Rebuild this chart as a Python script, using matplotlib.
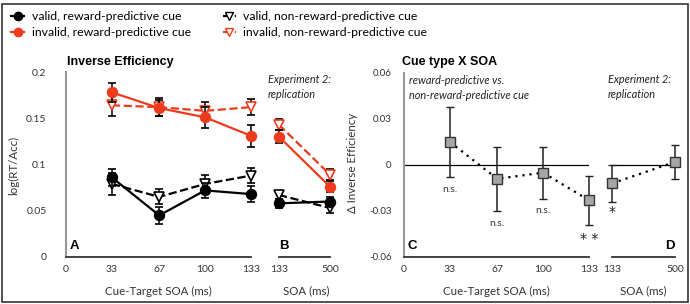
import numpy as np
import matplotlib.pyplot as plt
from matplotlib.lines import Line2D
from matplotlib.patches import Rectangle

plt.rcParams["font.family"] = ["Lato", "DejaVu Sans"]

RED = "#ee3b1e"
W, H = 690, 304

# Experiment 1: cue-target SOA (ms)
soa_1 = [33, 67, 100, 133]
valid_rew = [0.086, 0.045, 0.072, 0.068]
valid_rew_err = [0.009, 0.009, 0.008, 0.009]
valid_non = [0.079, 0.065, 0.079, 0.088]
valid_non_err = [0.012, 0.008, 0.010, 0.008]
invalid_rew = [0.178, 0.161, 0.151, 0.131]
invalid_rew_err = [0.010, 0.009, 0.011, 0.012]
invalid_non = [0.164, 0.162, 0.158, 0.162]
invalid_non_err = [0.012, 0.010, 0.010, 0.009]

# Experiment 2: replication
soa_2 = [133, 500]
valid_rew_2 = [0.058, 0.060]
valid_rew_2_err = [0.005, 0.005]
valid_non_2 = [0.067, 0.053]
valid_non_2_err = [0.004, 0.005]
invalid_rew_2 = [0.130, 0.076]
invalid_rew_2_err = [0.007, 0.006]
invalid_non_2 = [0.143, 0.089]
invalid_non_2_err = [0.006, 0.006]

# Cue type x SOA difference
diff_1 = [0.015, -0.009, -0.005, -0.023]
diff_1_err = [0.023, 0.021, 0.017, 0.016]
sig_1 = ["n.s.", "n.s.", "n.s.", "* *"]
diff_2 = [-0.012, 0.002]
diff_2_err = [0.012, 0.011]
sig_2 = ["*", ""]


def fx(x):
    return x / W


def fy(y):
    return 1 - y / H


def make_ax(left, right, top, bottom):
    return fig.add_axes([fx(left), fy(bottom), fx(right - left), (bottom - top) / H])


fig = plt.figure(figsize=(6.9, 3.04), dpi=100)

axA = make_ax(66, 251, 72, 257)
axB = make_ax(279, 330, 72, 257)
axC = make_ax(404, 589, 73, 257)
axD = make_ax(612, 675, 73, 257)

for ax in [axA, axB, axC, axD]:
    for s in ["top", "right"]:
        ax.spines[s].set_visible(False)
    ax.spines["bottom"].set_color("#333333")
    ax.spines["bottom"].set_linewidth(1.3)
    ax.spines["left"].set_color("#999999")
    ax.spines["left"].set_linewidth(1.5)
    ax.tick_params(length=0, labelsize=7.5, labelcolor="#333333")
    ax.patch.set_visible(False)

for ax in [axB, axD]:
    ax.spines["left"].set_visible(False)
    ax.set_yticks([])


def draw_lines(ax, x, y, e, color, ls, marker, mfc, z):
    ax.errorbar(x, y, yerr=e, color=color, ls=ls, lw=1.6, marker=marker,
                ms=7 if marker == "o" else 6.5, mfc=mfc, mec=color, mew=1.2,
                ecolor="black", elinewidth=1.1, capsize=2.6, capthick=1.1,
                clip_on=False, zorder=z)


for ax, x, series in [
    (axA, soa_1, [(valid_non, valid_non_err, "black", "--", "v", "white", 3),
                  (valid_rew, valid_rew_err, "black", "-", "o", "black", 4),
                  (invalid_non, invalid_non_err, RED, "--", "v", "white", 3),
                  (invalid_rew, invalid_rew_err, RED, "-", "o", RED, 4)]),
    (axB, soa_2, [(valid_non_2, valid_non_2_err, "black", "--", "v", "white", 3),
                  (valid_rew_2, valid_rew_2_err, "black", "-", "o", "black", 4),
                  (invalid_non_2, invalid_non_2_err, RED, "--", "v", "white", 3),
                  (invalid_rew_2, invalid_rew_2_err, RED, "-", "o", RED, 4)]),
]:
    for y, e, c, ls, m, mfc, z in series:
        draw_lines(ax, x, y, e, c, ls, m, mfc, z)

axA.set_xlim(0, 133)
axA.set_ylim(0, 0.2)
axA.set_xticks([0] + soa_1)
axA.set_xticklabels(["0"] + [str(s) for s in soa_1])
axA.set_yticks([0, 0.05, 0.1, 0.15, 0.2])
axA.set_yticklabels(["0", "0.05", "0.1", "0.15", "0.2"])
axA.tick_params(axis="y", pad=14)
axA.tick_params(axis="x", pad=6)

axB.set_xlim(133, 500)
axB.set_ylim(0, 0.2)
axB.set_xticks(soa_2)
axB.tick_params(axis="x", pad=6)

for ax, x, y, e in [(axC, soa_1, diff_1, diff_1_err), (axD, soa_2, diff_2, diff_2_err)]:
    ax.axhline(0, color="black", lw=0.9, zorder=1)
    ax.errorbar(x, y, yerr=e, color="black", ls=(0, (1, 2.2)), lw=1.6, marker="s",
                ms=7.5, mfc="#a6a6a6", mec="#333333", mew=1.0,
                ecolor="#222222", elinewidth=1.1, capsize=3.2, capthick=1.1,
                clip_on=False, zorder=3)

axC.set_xlim(0, 133)
axC.set_ylim(-0.06, 0.06)
axC.set_xticks([0] + soa_1)
axC.set_xticklabels(["0"] + [str(s) for s in soa_1])
axC.set_yticks([-0.06, -0.03, 0, 0.03, 0.06])
axC.set_yticklabels(["-0.06", "-0.03", "0", "0.03", "0.06"])
axC.tick_params(axis="y", pad=9, labelsize=7)
axC.tick_params(axis="x", pad=6)

axD.set_xlim(133, 500)
axD.set_ylim(-0.06, 0.06)
axD.set_xticks(soa_2)
axD.tick_params(axis="x", pad=6)

# significance labels
star_font = ["DejaVu Sans"]
for x, y, e, s in zip(soa_1, diff_1, diff_1_err, sig_1):
    if "*" in s:
        axC.text(x, y - e - 0.005, s, ha="center", va="top", fontsize=10,
                 family=star_font, color="#222222")
    else:
        axC.text(x, y - e - 0.005, s, ha="center", va="top", fontsize=7.5, color="#333333")
for x, y, e, s in zip(soa_2, diff_2, diff_2_err, sig_2):
    axD.text(x, y - e - 0.002, s, ha="center", va="top", fontsize=10,
             family=star_font, color="#222222")

# axis titles / labels
bold = dict(family=["Liberation Sans", "DejaVu Sans"], fontweight="bold")
fig.text(fx(67), fy(62), "Inverse Efficiency", fontsize=9, va="center", **bold)
fig.text(fx(402), fy(62), "Cue type X SOA", fontsize=9, va="center", **bold)
fig.text(fx(74), fy(246), "A", fontsize=9.5, ha="center", va="center", **bold)
fig.text(fx(284), fy(246), "B", fontsize=9.5, ha="center", va="center", **bold)
fig.text(fx(412), fy(246), "C", fontsize=9.5, ha="center", va="center", **bold)
fig.text(fx(670), fy(246), "D", fontsize=9.5, ha="center", va="center", **bold)

fig.text(fx(268), fy(87), "Experiment 2:\nreplication", fontsize=7.8, style="italic",
         va="center", linespacing=1.5, color="#222222")
fig.text(fx(608), fy(87), "Experiment 2:\nreplication", fontsize=7.8, style="italic",
         va="center", linespacing=1.5, color="#222222")
fig.text(fx(409), fy(88), "reward-predictive vs.\nnon-reward-predictive cue", fontsize=7.8,
         style="italic", va="center", linespacing=1.5, color="#222222")

fig.text(fx(158), fy(291), "Cue-Target SOA (ms)", fontsize=8.3, ha="center", va="center", color="#333333")
fig.text(fx(306), fy(291), "SOA (ms)", fontsize=8.3, ha="center", va="center", color="#333333")
fig.text(fx(496), fy(291), "Cue-Target SOA (ms)", fontsize=8.3, ha="center", va="center", color="#333333")
fig.text(fx(643), fy(291), "SOA (ms)", fontsize=8.3, ha="center", va="center", color="#333333")
fig.text(fx(14), fy(165), "log(RT/Acc)", fontsize=8.3, rotation=90, ha="center", va="center", color="#333333")
fig.text(fx(353), fy(163), "Δ Inverse Efficiency", fontsize=8.3, rotation=90, ha="center", va="center", color="#333333")

# legend
handles = [
    Line2D([], [], color="black", ls="-", marker="o", ms=6, lw=1.6),
    Line2D([], [], color=RED, ls="-", marker="o", ms=6, lw=1.6),
    Line2D([], [], color="black", ls="--", marker="v", ms=6, mfc="white", lw=1.6),
    Line2D([], [], color=RED, ls="--", marker="v", ms=6, mfc="white", lw=1.6),
]
labels = ["valid, reward-predictive cue", "invalid, reward-predictive cue",
          "valid, non-reward-predictive cue", "invalid, non-reward-predictive cue"]
fig.legend(handles, labels, ncol=2, loc="upper left", bbox_to_anchor=(fx(6), fy(6)),
           frameon=False, fontsize=8.8, handlelength=1.1, handletextpad=0.6,
           columnspacing=2.6, labelspacing=0.45, borderaxespad=0)

fig.patches.append(Rectangle((fx(2), fy(302)), fx(686), 298 / H, transform=fig.transFigure,
                             fill=False, ec="#444444", lw=1.3))

fig.savefig("out.png", dpi=100)
